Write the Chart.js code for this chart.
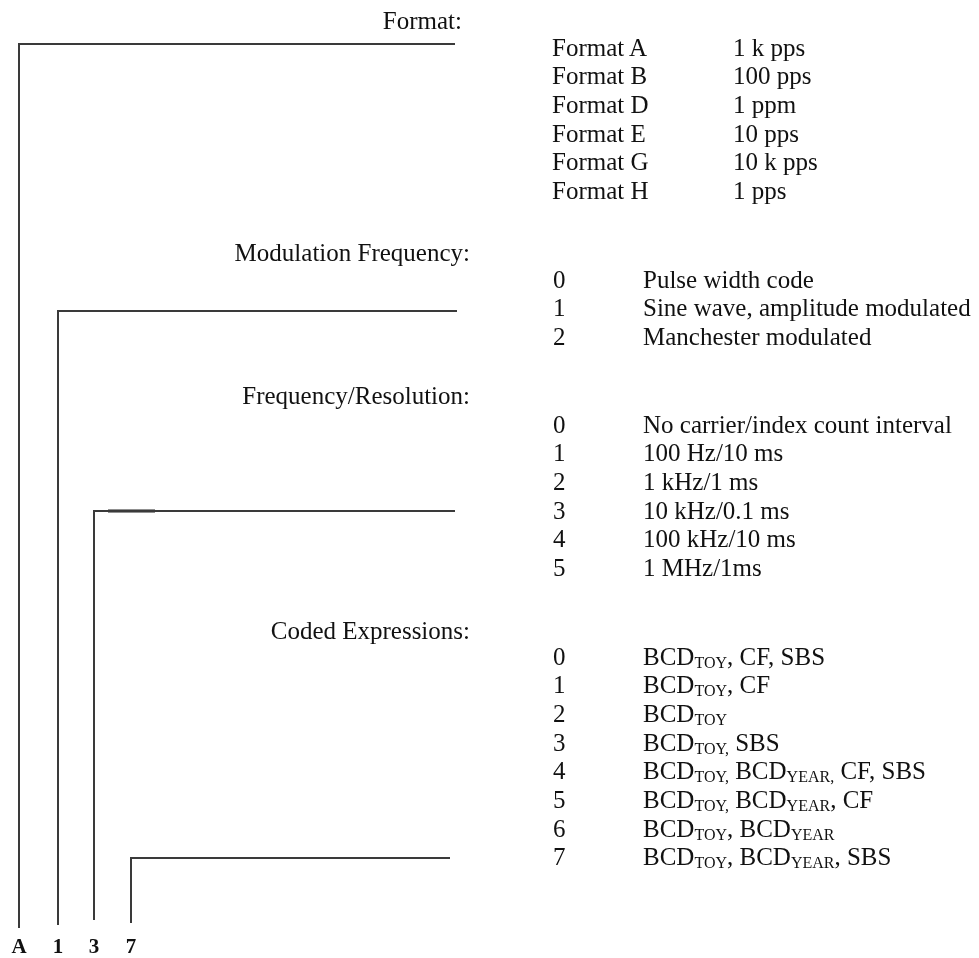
<!DOCTYPE html>
<html>
<head>
<meta charset="utf-8">
<script src="https://cdn.jsdelivr.net/npm/chart.js@4/dist/chart.umd.min.js"></script>
<style>
  html, body { margin: 0; padding: 0; background: #ffffff; }
  #wrap { position: relative; width: 979px; height: 958px; overflow: hidden; }
  #c { position: absolute; left: 0; top: 0; }
  .t { position: absolute; font-family: "Liberation Serif", "Times New Roman", serif; font-size: 25px;
       line-height: 29px; height: 29px; color: #111111; white-space: nowrap; }
  .t sub { font-size: 16px; vertical-align: -3px; line-height: 0; }
  .r { transform: translateX(-100%); }
  .b { font-weight: bold; font-size: 21px; transform: translateX(-50%); }
</style>
</head>
<body>
<div id="wrap"><canvas id="c" width="979" height="958"></canvas></div>
<script>
// ---- Data (text content of the diagram) ----
const headings = ['Format:', 'Modulation Frequency:', 'Frequency/Resolution:', 'Coded Expressions:'];
const formatNames = ['Format A', 'Format B', 'Format D', 'Format E', 'Format G', 'Format H'];
const formatRates = ['1 k pps', '100 pps', '1 ppm', '10 pps', '10 k pps', '1 pps'];
const modulationCodes = ['0', '1', '2'];
const modulationLabels = ['Pulse width code', 'Sine wave, amplitude modulated', 'Manchester modulated'];
const frequencyCodes = ['0', '1', '2', '3', '4', '5'];
const frequencyLabels = ['No carrier/index count interval', '100 Hz/10 ms', '1 kHz/1 ms', '10 kHz/0.1 ms', '100 kHz/10 ms', '1 MHz/1ms'];
const codedCodes = ['0', '1', '2', '3', '4', '5', '6', '7'];
const codedLabels = [
  'BCD<sub>TOY</sub>, CF, SBS',
  'BCD<sub>TOY</sub>, CF',
  'BCD<sub>TOY</sub>',
  'BCD<sub>TOY,</sub> SBS',
  'BCD<sub>TOY,</sub> BCD<sub>YEAR,</sub> CF, SBS',
  'BCD<sub>TOY,</sub> BCD<sub>YEAR</sub>, CF',
  'BCD<sub>TOY</sub>, BCD<sub>YEAR</sub>',
  'BCD<sub>TOY</sub>, BCD<sub>YEAR</sub>, SBS'
];
const designator = ['A', '1', '3', '7'];

// ---- Layout (diagram geometry, in scale units) ----
const layout = {
  colX: [19, 58, 94, 131],
  branchY: [44, 311, 511, 858],
  branchEnd: [455, 457, 455, 450],
  colBottom: [928, 925, 920, 923],
  headingRight: [462, 470, 470, 470],
  headingY: [20, 252, 395, 630],
  sectionStartY: [47, 279, 424, 656],
  rowStep: 28.7,
  codeX: 553, labelX: 643, formatX: 552, rateX: 733,
  designatorY: 946
};

const datasets = [];
for (let i = 0; i < designator.length; i++) {
  datasets.push({
    data: [
      { x: layout.colX[i], y: layout.colBottom[i] },
      { x: layout.colX[i], y: layout.branchY[i] },
      { x: layout.branchEnd[i], y: layout.branchY[i] }
    ],
    showLine: true, borderColor: '#3a3a3a', borderWidth: 2, pointRadius: 0, tension: 0, fill: false
  });
}
datasets.push({
  data: [{ x: 108, y: layout.branchY[2] }, { x: 155, y: layout.branchY[2] }],
  showLine: true, borderColor: '#222222', borderWidth: 3, pointRadius: 0, fill: false
});

const wrap = document.getElementById('wrap');
function addText(html, x, yCenter, cls) {
  const d = document.createElement('div');
  d.className = 't' + (cls ? ' ' + cls : '');
  d.innerHTML = html;
  d.style.left = x + 'px';
  d.style.top = (yCenter - 14.5) + 'px';
  wrap.appendChild(d);
}

const textPlugin = {
  id: 'diagramText',
  afterRender(chart) {
    if (chart._textDone) return;
    chart._textDone = true;
    const sx = v => chart.scales.x.getPixelForValue(v);
    const sy = v => chart.scales.y.getPixelForValue(v);
    headings.forEach((h, i) => addText(h, sx(layout.headingRight[i]), sy(layout.headingY[i]), 'r'));
    formatNames.forEach((n, i) => {
      const y = sy(layout.sectionStartY[0] + i * layout.rowStep);
      addText(n, sx(layout.formatX), y);
      addText(formatRates[i], sx(layout.rateX), y);
    });
    const lists = [[modulationCodes, modulationLabels], [frequencyCodes, frequencyLabels], [codedCodes, codedLabels]];
    lists.forEach(([codes, labels], k) => {
      codes.forEach((c, i) => {
        const y = sy(layout.sectionStartY[k + 1] + i * layout.rowStep);
        addText(c, sx(layout.codeX), y);
        addText(labels[i], sx(layout.labelX), y);
      });
    });
    designator.forEach((d, i) => addText(d, sx(layout.colX[i]), sy(layout.designatorY), 'b'));
  }
};

new Chart(document.getElementById('c'), {
  type: 'scatter',
  data: { datasets },
  options: {
    responsive: false,
    animation: false,
    events: [],
    layout: { padding: 0 },
    plugins: { legend: { display: false }, tooltip: { enabled: false } },
    scales: {
      x: { type: 'linear', min: 0, max: 979, display: false },
      y: { type: 'linear', min: 0, max: 958, reverse: true, display: false }
    }
  },
  plugins: [textPlugin]
});
</script>
</body>
</html>
